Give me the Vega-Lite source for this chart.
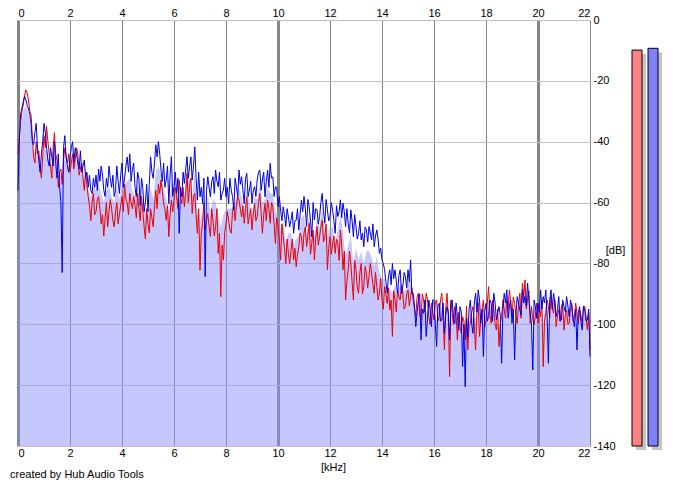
{
  "$schema": "https://vega.github.io/schema/vega-lite/v6.json",
  "background": "white",
  "padding": {"left": 10, "top": 7, "right": 5, "bottom": 5},
  "title": {"text": "created by Hub Audio Tools", "orient": "bottom", "anchor": "start", "fontSize": 11, "fontWeight": "normal", "font": "Liberation Sans", "color": "black", "offset": 0, "dx": -6, "dy": -3},
  "config": {
    "view": {"stroke": null},
    "font": "Liberation Sans",
    "axis": {"labelFont": "Liberation Sans", "labelFontSize": 11, "labelColor": "black", "titleFont": "Liberation Sans", "titleFontSize": 11, "titleFontWeight": "normal", "titleColor": "black", "domain": false, "ticks": false, "zindex": 1}
  },
  "bounds": "flush",
  "spacing": 39,
  "resolve": {"scale": {"color": "independent"}},
  "datasets": {
    "spectrum": [
      {"f":0.0,"L":-44,"R":-56,"A":-56},{"f":0.1,"L":-34,"R":-31,"A":-36},{"f":0.2,"L":-28,"R":-27,"A":-30},{"f":0.3,"L":-23,"R":-26,"A":-28},{"f":0.4,"L":-26,"R":-29,"A":-31},
      {"f":0.5,"L":-31,"R":-34,"A":-36},{"f":0.6,"L":-45,"R":-41,"A":-44},{"f":0.7,"L":-40,"R":-34,"A":-42},{"f":0.8,"L":-43,"R":-46,"A":-46},{"f":0.9,"L":-52,"R":-44,"A":-48},
      {"f":1.0,"L":-38,"R":-34,"A":-42},{"f":1.1,"L":-35,"R":-42,"A":-43},{"f":1.2,"L":-44,"R":-48,"A":-47},{"f":1.3,"L":-52,"R":-45,"A":-48},{"f":1.4,"L":-37,"R":-40,"A":-44},
      {"f":1.5,"L":-46,"R":-52,"A":-49},{"f":1.6,"L":-50,"R":-55,"A":-51},{"f":1.7,"L":-54,"R":-83,"A":-50},{"f":1.8,"L":-42,"R":-38,"A":-45},{"f":1.9,"L":-47,"R":-48,"A":-48},
      {"f":2.0,"L":-50,"R":-45,"A":-49},{"f":2.1,"L":-44,"R":-40,"A":-46},{"f":2.2,"L":-46,"R":-42,"A":-47},{"f":2.3,"L":-44,"R":-47,"A":-47},{"f":2.4,"L":-49,"R":-43,"A":-48},
      {"f":2.5,"L":-52,"R":-48,"A":-51},{"f":2.6,"L":-50,"R":-52,"A":-52},{"f":2.7,"L":-58,"R":-55,"A":-56},{"f":2.8,"L":-66,"R":-56,"A":-58},{"f":2.9,"L":-57,"R":-52,"A":-55},
      {"f":3.0,"L":-63,"R":-51,"A":-56},{"f":3.1,"L":-58,"R":-49,"A":-54},{"f":3.2,"L":-67,"R":-48,"A":-57},{"f":3.3,"L":-71,"R":-56,"A":-60},{"f":3.4,"L":-60,"R":-52,"A":-56},
      {"f":3.5,"L":-63,"R":-48,"A":-55},{"f":3.6,"L":-62,"R":-55,"A":-58},{"f":3.7,"L":-68,"R":-58,"A":-60},{"f":3.8,"L":-60,"R":-48,"A":-55},{"f":3.9,"L":-64,"R":-57,"A":-59},
      {"f":4.0,"L":-58,"R":-47,"A":-54},{"f":4.1,"L":-54,"R":-52,"A":-54},{"f":4.2,"L":-60,"R":-45,"A":-53},{"f":4.3,"L":-57,"R":-44,"A":-52},{"f":4.4,"L":-62,"R":-49,"A":-56},
      {"f":4.5,"L":-61,"R":-55,"A":-58},{"f":4.6,"L":-57,"R":-50,"A":-54},{"f":4.7,"L":-66,"R":-61,"A":-62},{"f":4.8,"L":-63,"R":-55,"A":-59},{"f":4.9,"L":-72,"R":-60,"A":-63},
      {"f":5.0,"L":-67,"R":-63,"A":-64},{"f":5.1,"L":-62,"R":-45,"A":-55},{"f":5.2,"L":-68,"R":-52,"A":-59},{"f":5.3,"L":-56,"R":-41,"A":-50},{"f":5.4,"L":-54,"R":-40,"A":-48},
      {"f":5.5,"L":-52.6,"R":-49.3,"A":-51},{"f":5.6,"L":-60.3,"R":-47.1,"A":-55},{"f":5.7,"L":-65.8,"R":-52.6,"A":-59},{"f":5.8,"L":-71.2,"R":-60.3,"A":-63},{"f":5.9,"L":-59.2,"R":-44.9,"A":-53},
      {"f":6.0,"L":-59.2,"R":-54.8,"A":-57},{"f":6.1,"L":-58.1,"R":-57,"A":-57},{"f":6.2,"L":-52.6,"R":-70.1,"A":-60},{"f":6.3,"L":-60.3,"R":-58.1,"A":-59},{"f":6.4,"L":-61.4,"R":-53.7,"A":-58},
      {"f":6.5,"L":-50.4,"R":-44.9,"A":-48},{"f":6.6,"L":-54.8,"R":-48.2,"A":-52},{"f":6.7,"L":-63.6,"R":-52.6,"A":-58},{"f":6.8,"L":-57,"R":-41.7,"A":-50},{"f":6.9,"L":-70.1,"R":-59.2,"A":-63},
      {"f":7.0,"L":-82.2,"R":-58.1,"A":-66},{"f":7.1,"L":-66.8,"R":-60.3,"A":-63},{"f":7.2,"L":-69,"R":-84.4,"A":-68},{"f":7.3,"L":-63.6,"R":-51.5,"A":-58},{"f":7.4,"L":-71.2,"R":-58.1,"A":-63},
      {"f":7.5,"L":-65.8,"R":-51.5,"A":-59},{"f":7.6,"L":-67.9,"R":-49.3,"A":-60},{"f":7.7,"L":-76.7,"R":-54.8,"A":-64},{"f":7.8,"L":-90.9,"R":-59.2,"A":-68},{"f":7.9,"L":-78.9,"R":-55.9,"A":-64},
      {"f":8.0,"L":-66.8,"R":-58.1,"A":-62},{"f":8.1,"L":-65.8,"R":-60.3,"A":-62},{"f":8.2,"L":-70.1,"R":-55.9,"A":-62},{"f":8.3,"L":-60.3,"R":-62.5,"A":-61},{"f":8.4,"L":-61.4,"R":-54.8,"A":-58},
      {"f":8.5,"L":-59.2,"R":-49.3,"A":-55},{"f":8.6,"L":-64.7,"R":-51.5,"A":-58},{"f":8.7,"L":-66.8,"R":-60.3,"A":-63},{"f":8.8,"L":-58.1,"R":-50.4,"A":-55},{"f":8.9,"L":-64.7,"R":-55.9,"A":-60},
      {"f":9.0,"L":-69,"R":-60.3,"A":-64},{"f":9.1,"L":-60.3,"R":-54.8,"A":-58},{"f":9.2,"L":-64.7,"R":-52.6,"A":-59},{"f":9.3,"L":-57,"R":-49.3,"A":-54},{"f":9.4,"L":-70.1,"R":-52.6,"A":-60},
      {"f":9.5,"L":-60.3,"R":-58.1,"A":-59},{"f":9.6,"L":-59.2,"R":-49.3,"A":-55},{"f":9.7,"L":-66.8,"R":-47.1,"A":-57},{"f":9.8,"L":-61.4,"R":-51.5,"A":-57},{"f":9.9,"L":-73.4,"R":-54.8,"A":-63},
      {"f":10.0,"L":-67.9,"R":-61.4,"A":-64},{"f":10.1,"L":-78.9,"R":-62.5,"A":-69},{"f":10.2,"L":-71.2,"R":-61.4,"A":-66},{"f":10.3,"L":-80,"R":-67.9,"A":-73},{"f":10.4,"L":-76.7,"R":-64.7,"A":-70},
      {"f":10.5,"L":-75.6,"R":-65.8,"A":-70},{"f":10.6,"L":-78.9,"R":-70.1,"A":-74},{"f":10.7,"L":-81.1,"R":-65.8,"A":-72},{"f":10.8,"L":-74.5,"R":-69,"A":-71},{"f":10.9,"L":-71.2,"R":-59.2,"A":-65},
      {"f":11.0,"L":-70.1,"R":-58,"A":-64},{"f":11.1,"L":-74.5,"R":-67.9,"A":-71},{"f":11.2,"L":-66.8,"R":-61.3,"A":-64},{"f":11.3,"L":-73.4,"R":-71.2,"A":-72},{"f":11.4,"L":-78.9,"R":-65.7,"A":-71},
      {"f":11.5,"L":-67.9,"R":-62.4,"A":-65},{"f":11.6,"L":-71.2,"R":-64.6,"A":-68},{"f":11.7,"L":-65.7,"R":-57,"A":-62},{"f":11.8,"L":-71.2,"R":-66.8,"A":-69},{"f":11.9,"L":-82.1,"R":-62.4,"A":-71},
      {"f":12.0,"L":-71.2,"R":-64.6,"A":-68},{"f":12.1,"L":-73.4,"R":-62.4,"A":-68},{"f":12.2,"L":-76.7,"R":-70.1,"A":-73},{"f":12.3,"L":-73.4,"R":-64.6,"A":-69},{"f":12.4,"L":-69,"R":-59.1,"A":-64},
      {"f":12.5,"L":-82.1,"R":-60.2,"A":-70},{"f":12.6,"L":-92,"R":-67.9,"A":-78},{"f":12.7,"L":-82.1,"R":-66.8,"A":-74},{"f":12.8,"L":-80,"R":-62.4,"A":-71},{"f":12.9,"L":-92,"R":-71.2,"A":-80},
      {"f":13.0,"L":-82.1,"R":-67.9,"A":-75},{"f":13.1,"L":-89.8,"R":-70.1,"A":-79},{"f":13.2,"L":-80,"R":-72.3,"A":-76},{"f":13.3,"L":-87.6,"R":-74.5,"A":-80},{"f":13.4,"L":-83.2,"R":-69,"A":-76},
      {"f":13.5,"L":-84.3,"R":-67.9,"A":-76},{"f":13.6,"L":-83.2,"R":-72.3,"A":-78},{"f":13.7,"L":-89.8,"R":-74.5,"A":-81},{"f":13.8,"L":-87.6,"R":-69,"A":-78},{"f":13.9,"L":-89.8,"R":-76.7,"A":-83},
      {"f":14.0,"L":-92,"R":-78.9,"A":-85},{"f":14.1,"L":-87.6,"R":-82.1,"A":-85},{"f":14.2,"L":-93.1,"R":-89.8,"A":-91},{"f":14.3,"L":-95.3,"R":-82.1,"A":-88},{"f":14.4,"L":-104,"R":-80,"A":-90},
      {"f":14.5,"L":-92,"R":-82.1,"A":-87},{"f":14.6,"L":-88.7,"R":-89.8,"A":-89},{"f":14.7,"L":-92,"R":-82.1,"A":-87},{"f":14.8,"L":-89.8,"R":-87.6,"A":-89},{"f":14.9,"L":-94.2,"R":-84.3,"A":-89},
      {"f":15.0,"L":-88.7,"R":-82.1,"A":-86},{"f":15.1,"L":-90.9,"R":-78.9,"A":-85},{"f":15.2,"L":-92,"R":-89.8,"A":-91},{"f":15.3,"L":-97.5,"R":-100.8,"A":-98},{"f":15.4,"L":-89.8,"R":-92,"A":-91},
      {"f":15.5,"L":-98.6,"R":-105.1,"A":-100},{"f":15.6,"L":-92,"R":-96.4,"A":-94},{"f":15.7,"L":-89.8,"R":-104,"A":-96},{"f":15.8,"L":-97.5,"R":-92,"A":-95},{"f":15.9,"L":-93.1,"R":-100.8,"A":-97},
      {"f":16.0,"L":-98.6,"R":-92,"A":-95},{"f":16.1,"L":-92,"R":-107.3,"A":-99},{"f":16.2,"L":-97.5,"R":-93.1,"A":-95},{"f":16.3,"L":-89.8,"R":-98.6,"A":-94},{"f":16.4,"L":-108.4,"R":-103,"A":-104},
      {"f":16.5,"L":-89.8,"R":-94.2,"A":-92},{"f":16.6,"L":-117.2,"R":-105.2,"A":-108},{"f":16.7,"L":-96.4,"R":-92,"A":-94},{"f":16.8,"L":-94.2,"R":-99.7,"A":-97},{"f":16.9,"L":-105.2,"R":-97.5,"A":-100},
      {"f":17.0,"L":-100.8,"R":-94.2,"A":-97},{"f":17.1,"L":-97.5,"R":-113.9,"A":-104},{"f":17.2,"L":-105.2,"R":-120.5,"A":-110},{"f":17.3,"L":-108.4,"R":-104.1,"A":-106},{"f":17.4,"L":-99.7,"R":-92,"A":-96},
      {"f":17.5,"L":-94.2,"R":-103,"A":-98},{"f":17.6,"L":-108.4,"R":-89.8,"A":-98},{"f":17.7,"L":-93.1,"R":-88.7,"A":-91},{"f":17.8,"L":-98.6,"R":-99.7,"A":-99},{"f":17.9,"L":-92,"R":-110.6,"A":-100},
      {"f":18.0,"L":-98.6,"R":-93.1,"A":-96},{"f":18.1,"L":-87.6,"R":-97.5,"A":-92},{"f":18.2,"L":-99.7,"R":-93.1,"A":-96},{"f":18.3,"L":-95.3,"R":-89.8,"A":-93},{"f":18.4,"L":-101.9,"R":-98.6,"A":-100},
      {"f":18.5,"L":-107.3,"R":-94.2,"A":-100},{"f":18.6,"L":-97.5,"R":-112.8,"A":-104},{"f":18.7,"L":-95.3,"R":-89.8,"A":-93},{"f":18.8,"L":-92,"R":-88.7,"A":-90},{"f":18.9,"L":-88.7,"R":-94.2,"A":-91},
      {"f":19.0,"L":-97.5,"R":-99.7,"A":-98},{"f":19.1,"L":-93.1,"R":-111.7,"A":-101},{"f":19.2,"L":-99.7,"R":-90.9,"A":-95},{"f":19.3,"L":-89.8,"R":-95.3,"A":-92},{"f":19.4,"L":-86.5,"R":-88.7,"A":-88},
      {"f":19.5,"L":-85.4,"R":-90.9,"A":-88},{"f":19.6,"L":-92,"R":-86.5,"A":-89},{"f":19.7,"L":-99.7,"R":-96.4,"A":-98},{"f":19.8,"L":-98.6,"R":-115,"A":-106},{"f":19.9,"L":-97.5,"R":-94.2,"A":-96},
      {"f":20.0,"L":-99.7,"R":-93.1,"A":-96},{"f":20.1,"L":-97.5,"R":-88.7,"A":-93},{"f":20.2,"L":-113.9,"R":-90.9,"A":-101},{"f":20.3,"L":-96.4,"R":-88.7,"A":-92},{"f":20.4,"L":-94.2,"R":-112.8,"A":-102},
      {"f":20.5,"L":-90.9,"R":-88.7,"A":-90},{"f":20.6,"L":-96.4,"R":-89.8,"A":-93},{"f":20.7,"L":-100.8,"R":-97.5,"A":-99},{"f":20.8,"L":-95.3,"R":-90.9,"A":-93},{"f":20.9,"L":-94.2,"R":-98.6,"A":-96},
      {"f":21.0,"L":-101.9,"R":-94.2,"A":-98},{"f":21.1,"L":-95.3,"R":-90.9,"A":-93},{"f":21.2,"L":-99.7,"R":-97.5,"A":-98},{"f":21.3,"L":-93.1,"R":-94.2,"A":-94},{"f":21.4,"L":-97.5,"R":-100.8,"A":-99},
      {"f":21.5,"L":-96.4,"R":-108.4,"A":-101},{"f":21.6,"L":-95.3,"R":-94.2,"A":-95},{"f":21.7,"L":-99.7,"R":-101.9,"A":-101},{"f":21.8,"L":-94.2,"R":-95.3,"A":-95},{"f":21.9,"L":-101.9,"R":-98.6,"A":-100},
      {"f":22.0,"L":-108.4,"R":-110.6,"A":-109},
      {"f":0.05,"L":-38,"R":-40},{"f":0.15,"L":-30,"R":-29},{"f":0.25,"L":-25,"R":-25},{"f":0.35,"L":-24,"R":-28},{"f":0.45,"L":-30,"R":-31},
      {"f":0.55,"L":-38,"R":-40},{"f":0.65,"L":-47,"R":-37},{"f":0.75,"L":-44,"R":-42},{"f":0.85,"L":-48,"R":-50},{"f":0.95,"L":-45,"R":-40},
      {"f":1.05,"L":-42,"R":-37},{"f":1.15,"L":-40,"R":-46},{"f":1.25,"L":-48,"R":-42},{"f":1.35,"L":-42,"R":-48},{"f":1.45,"L":-44,"R":-47},
      {"f":1.55,"L":-55,"R":-44},{"f":1.65,"L":-49,"R":-60},{"f":1.75,"L":-46,"R":-42},{"f":1.85,"L":-45,"R":-45},{"f":1.95,"L":-44,"R":-50},
      {"f":2.05,"L":-47,"R":-42},{"f":2.15,"L":-49,"R":-47},{"f":2.25,"L":-42,"R":-44},{"f":2.35,"L":-51,"R":-49},{"f":2.45,"L":-47,"R":-50},
      {"f":2.55,"L":-56,"R":-46},{"f":2.65,"L":-54,"R":-50},{"f":2.75,"L":-61,"R":-51},{"f":2.85,"L":-60,"R":-57},{"f":2.95,"L":-64,"R":-55},
      {"f":3.05,"L":-59,"R":-56},{"f":3.15,"L":-62,"R":-53},{"f":3.25,"L":-64,"R":-51},{"f":3.35,"L":-65,"R":-58},{"f":3.45,"L":-68,"R":-55},
      {"f":3.55,"L":-59,"R":-52},{"f":3.65,"L":-66,"R":-51},{"f":3.75,"L":-63,"R":-56},{"f":3.85,"L":-67,"R":-53},{"f":3.95,"L":-61,"R":-51},
      {"f":4.05,"L":-63,"R":-55},{"f":4.15,"L":-59,"R":-48},{"f":4.25,"L":-64,"R":-50},{"f":4.35,"L":-60,"R":-53},{"f":4.45,"L":-58,"R":-47},
      {"f":4.55,"L":-65,"R":-58},{"f":4.65,"L":-62,"R":-52},{"f":4.75,"L":-58,"R":-52},{"f":4.85,"L":-68,"R":-63},{"f":4.95,"L":-62,"R":-54},
      {"f":5.05,"L":-70,"R":-54},{"f":5.15,"L":-65,"R":-50},{"f":5.25,"L":-61,"R":-47},{"f":5.35,"L":-62,"R":-45},{"f":5.45,"L":-57,"R":-44},
      {"f":5.55,"L":-56,"R":-53},{"f":5.65,"L":-62,"R":-55},{"f":5.75,"L":-61,"R":-48},{"f":5.85,"L":-64,"R":-51},{"f":5.95,"L":-63,"R":-58},
      {"f":6.05,"L":-55,"R":-50},{"f":6.15,"L":-62,"R":-52},{"f":6.25,"L":-58,"R":-55},{"f":6.35,"L":-55,"R":-50},{"f":6.45,"L":-57,"R":-49},
      {"f":6.55,"L":-60,"R":-52},{"f":6.65,"L":-52,"R":-45},{"f":6.75,"L":-58,"R":-48},{"f":6.85,"L":-64,"R":-52},{"f":6.95,"L":-62,"R":-50},
      {"f":7.05,"L":-70,"R":-55},{"f":7.15,"L":-60,"R":-52},{"f":7.25,"L":-66,"R":-56},{"f":7.35,"L":-68,"R":-55},{"f":7.45,"L":-62,"R":-53},
      {"f":7.55,"L":-71,"R":-57},{"f":7.65,"L":-62,"R":-53},{"f":7.75,"L":-70,"R":-50},{"f":7.85,"L":-74,"R":-57},{"f":7.95,"L":-70,"R":-52},
      {"f":8.05,"L":-63,"R":-55},{"f":8.15,"L":-69,"R":-52},{"f":8.25,"L":-63,"R":-58},{"f":8.35,"L":-66,"R":-52},{"f":8.45,"L":-58,"R":-58},
      {"f":8.55,"L":-62,"R":-54},{"f":8.65,"L":-61,"R":-56},{"f":8.75,"L":-62,"R":-52},{"f":8.85,"L":-67,"R":-58},{"f":8.95,"L":-62,"R":-53},
      {"f":9.05,"L":-64,"R":-56},{"f":9.15,"L":-66,"R":-58},{"f":9.25,"L":-60,"R":-50},{"f":9.35,"L":-63,"R":-56},{"f":9.45,"L":-64,"R":-50},
      {"f":9.55,"L":-66,"R":-53},{"f":9.65,"L":-62,"R":-55},{"f":9.75,"L":-60,"R":-52},{"f":9.85,"L":-67,"R":-58},{"f":9.95,"L":-65,"R":-55},
      {"f":10.05,"L":-72,"R":-58},{"f":10.15,"L":-67,"R":-66},{"f":10.25,"L":-75,"R":-64},{"f":10.35,"L":-72,"R":-62},{"f":10.45,"L":-80,"R":-68},
      {"f":10.55,"L":-72,"R":-63},{"f":10.65,"L":-75,"R":-66},{"f":10.75,"L":-77,"R":-62},{"f":10.85,"L":-70,"R":-64},{"f":10.95,"L":-76,"R":-63},
      {"f":11.05,"L":-68,"R":-62},{"f":11.15,"L":-71,"R":-59},{"f":11.25,"L":-77,"R":-66},{"f":11.35,"L":-69,"R":-60},{"f":11.45,"L":-72,"R":-62},
      {"f":11.55,"L":-74,"R":-67},{"f":11.65,"L":-68,"R":-60},{"f":11.75,"L":-73,"R":-63},{"f":11.85,"L":-67,"R":-59},{"f":11.95,"L":-75,"R":-66},
      {"f":12.05,"L":-77,"R":-60},{"f":12.15,"L":-71,"R":-66},{"f":12.25,"L":-72,"R":-61},{"f":12.35,"L":-79,"R":-63},{"f":12.45,"L":-74,"R":-65},
      {"f":12.55,"L":-76,"R":-63},{"f":12.65,"L":-86,"R":-62},{"f":12.75,"L":-76,"R":-70},{"f":12.85,"L":-86,"R":-66},{"f":12.95,"L":-79,"R":-64},
      {"f":13.05,"L":-88,"R":-72},{"f":13.15,"L":-83,"R":-66},{"f":13.25,"L":-90,"R":-70},{"f":13.35,"L":-81,"R":-68},{"f":13.45,"L":-88,"R":-73},
      {"f":13.55,"L":-80,"R":-70},{"f":13.65,"L":-87,"R":-67},{"f":13.75,"L":-83,"R":-71},{"f":13.85,"L":-92,"R":-72},{"f":13.95,"L":-85,"R":-75},
      {"f":14.05,"L":-95,"R":-80},{"f":14.15,"L":-90,"R":-86},{"f":14.25,"L":-88,"R":-84},{"f":14.35,"L":-92,"R":-87},{"f":14.45,"L":-89,"R":-85},
      {"f":14.55,"L":-96,"R":-86},{"f":14.65,"L":-91,"R":-84},{"f":14.75,"L":-87,"R":-90},{"f":14.85,"L":-95,"R":-83},{"f":14.95,"L":-90,"R":-88},
      {"f":15.05,"L":-94,"R":-86},{"f":15.15,"L":-88,"R":-90},{"f":15.25,"L":-95,"R":-94},{"f":15.35,"L":-91,"R":-96},{"f":15.45,"L":-97,"R":-90},
      {"f":15.55,"L":-90,"R":-95},{"f":15.65,"L":-96,"R":-92},{"f":15.75,"L":-92,"R":-98},{"f":15.85,"L":-100,"R":-95},{"f":15.95,"L":-96,"R":-92},
      {"f":16.05,"L":-93,"R":-100},{"f":16.15,"L":-99,"R":-94},{"f":16.25,"L":-92,"R":-99},{"f":16.35,"L":-97,"R":-93},{"f":16.45,"L":-95,"R":-97},
      {"f":16.55,"L":-97,"R":-96},{"f":16.65,"L":-92,"R":-93},{"f":16.75,"L":-100,"R":-98},{"f":16.85,"L":-97,"R":-93},{"f":16.95,"L":-96,"R":-102},
      {"f":17.05,"L":-103,"R":-96},{"f":17.15,"L":-99,"R":-100},{"f":17.25,"L":-94,"R":-98},{"f":17.35,"L":-100,"R":-95},{"f":17.45,"L":-96,"R":-100},
      {"f":17.55,"L":-100,"R":-93},{"f":17.65,"L":-96,"R":-96},{"f":17.75,"L":-104,"R":-92},{"f":17.85,"L":-95,"R":-95},{"f":17.95,"L":-101,"R":-96},
      {"f":18.05,"L":-93,"R":-99},{"f":18.15,"L":-97,"R":-92},{"f":18.25,"L":-92,"R":-99},{"f":18.35,"L":-100,"R":-93},{"f":18.45,"L":-95,"R":-96},
      {"f":18.55,"L":-100,"R":-97},{"f":18.65,"L":-92,"R":-95},{"f":18.75,"L":-98,"R":-93},{"f":18.85,"L":-95,"R":-98},{"f":18.95,"L":-93,"R":-92},
      {"f":19.05,"L":-91,"R":-95},{"f":19.15,"L":-97,"R":-97},{"f":19.25,"L":-94,"R":-93},{"f":19.35,"L":-98,"R":-97},{"f":19.45,"L":-91,"R":-93},
      {"f":19.55,"L":-95,"R":-94},{"f":19.65,"L":-89,"R":-92},{"f":19.75,"L":-94,"R":-100},{"f":19.85,"L":-100,"R":-92},{"f":19.95,"L":-93,"R":-98},
      {"f":20.05,"L":-95,"R":-96},{"f":20.15,"L":-92,"R":-95},{"f":20.25,"L":-99,"R":-93},{"f":20.35,"L":-92,"R":-97},{"f":20.45,"L":-98,"R":-92},
      {"f":20.55,"L":-95,"R":-95},{"f":20.65,"L":-92,"R":-93},{"f":20.75,"L":-97,"R":-95},{"f":20.85,"L":-99,"R":-99},{"f":20.95,"L":-93,"R":-92},
      {"f":21.05,"L":-97,"R":-96},{"f":21.15,"L":-100,"R":-94},{"f":21.25,"L":-95,"R":-92},{"f":21.35,"L":-99,"R":-98},{"f":21.45,"L":-93,"R":-95},
      {"f":21.55,"L":-100,"R":-96},{"f":21.65,"L":-97,"R":-99},{"f":21.75,"L":-94,"R":-94},{"f":21.85,"L":-98,"R":-99},{"f":21.95,"L":-96,"R":-95}
    ],
    "peaks": [
      {"ch": "L", "peak": -9.9},
      {"ch": "R", "peak": -9.3}
    ]
  },
  "hconcat": [
    {
      "width": 572,
      "height": 426,
      "data": {"name": "spectrum"},
      "layer": [
        {
          "transform": [{"filter": "isValid(datum.A)"}],
          "mark": {"type": "area", "color": "#9090ff", "opacity": 0.5},
          "encoding": {
            "x": {
              "field": "f", "type": "quantitative",
              "scale": {"domain": [0, 22], "nice": false},
              "axis": {
                "orient": "bottom", "values": [0, 2, 4, 6, 8, 10, 12, 14, 16, 18, 20, 22],
                "title": "[kHz]", "titleX": 315, "titleY": 21, "titleBaseline": "middle",
                "labelPadding": 1, "grid": true, "gridColor": "#707070", "gridOpacity": 0.85,
                "gridWidth": {"condition": {"test": "datum.value % 10 === 0", "value": 3}, "value": 1}
              }
            },
            "y": {
              "field": "A", "type": "quantitative",
              "scale": {"domain": [-140, 0], "nice": false},
              "axis": {
                "orient": "right", "values": [0, -20, -40, -60, -80, -100, -120, -140],
                "labelExpr": "datum.value + ''", "labelAlign": "left", "labelPadding": 3,
                "title": "[dB]", "titleAngle": 0, "titleX": 25, "titleY": 230, "titleAlign": "center", "titleBaseline": "middle",
                "grid": true, "gridColor": "#c0c0c0"
              }
            },
            "y2": {"datum": -140}
          }
        },
        {
          "transform": [{"fold": ["L", "R"], "as": ["ch", "db"]}],
          "mark": {"type": "line", "strokeWidth": 1},
          "encoding": {
            "x": {
              "field": "f", "type": "quantitative",
              "axis": {"orient": "top", "values": [0, 2, 4, 6, 8, 10, 12, 14, 16, 18, 20, 22], "title": null, "labelPadding": 2, "grid": false}
            },
            "y": {
              "field": "db", "type": "quantitative",
              "axis": {
                "orient": "right", "values": [0, -20, -40, -60, -80, -100, -120, -140],
                "labelExpr": "datum.value + ''", "labelAlign": "left", "labelPadding": 3,
                "title": "[dB]", "titleAngle": 0, "titleX": 25, "titleY": 230, "titleAlign": "center", "titleBaseline": "middle",
                "grid": true, "gridColor": "#c0c0c0"
              }
            },
            "color": {"field": "ch", "type": "nominal", "scale": {"domain": ["L", "R"], "range": ["#ee0000", "#0000e6"]}, "legend": null}
          }
        }
      ],
      "resolve": {"axis": {"x": "independent"}}
    },
    {
      "width": 32,
      "height": 426,
      "data": {"name": "peaks"},
      "encoding": {
        "x": {"field": "ch", "type": "nominal", "scale": {"paddingInner": 0.375, "paddingOuter": 0.1875}, "axis": null},
        "y": {"field": "peak", "type": "quantitative", "scale": {"domain": [-140, 0], "nice": false}, "axis": null},
        "y2": {"datum": -140}
      },
      "layer": [
        {"mark": {"type": "bar", "color": "#c4c4c4", "xOffset": 4, "x2Offset": 4, "yOffset": 4, "y2Offset": 4}},
        {
          "mark": {"type": "bar", "stroke": "black", "strokeWidth": 1},
          "encoding": {"color": {"field": "ch", "type": "nominal", "scale": {"domain": ["L", "R"], "range": ["#ff8080", "#8080ff"]}, "legend": null}}
        }
      ]
    }
  ]
}
